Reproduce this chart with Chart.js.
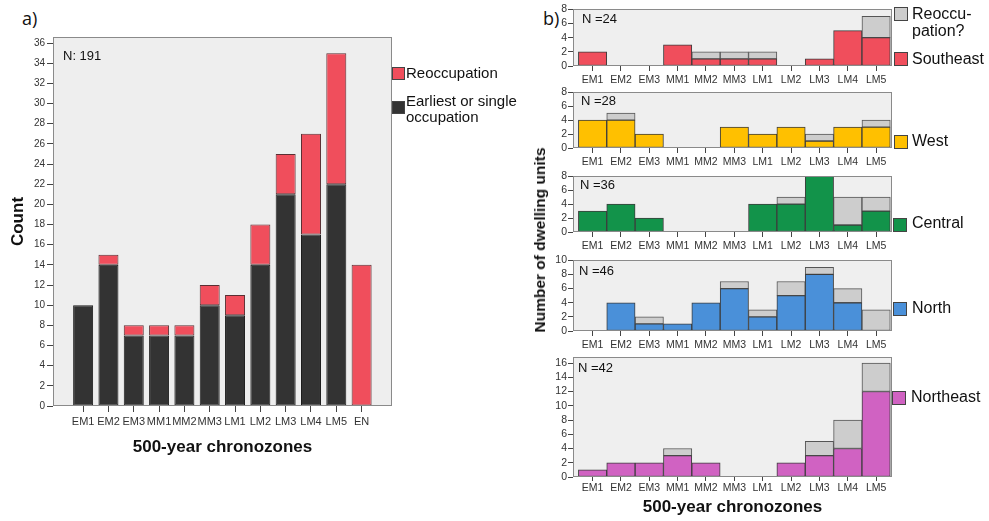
<!DOCTYPE html>
<html><head><meta charset="utf-8">
<script src="https://cdn.jsdelivr.net/npm/chart.js@4/dist/chart.umd.min.js"></script>
<style>
html,body{margin:0;padding:0;background:#fff}
body{width:989px;height:521px;position:relative;overflow:hidden;font-family:"Liberation Sans",Arial,sans-serif;color:#111}
.cv{position:absolute}
.t{position:absolute;white-space:nowrap}
.sw{position:absolute;width:11px;height:11px;border:1px solid #444}
.leg{position:absolute;font-size:15px;line-height:16px;white-space:nowrap;color:#111}
.n{position:absolute;font-size:13px;white-space:nowrap;color:#111}
</style></head><body>

<div class="t" style="left:22px;top:6px;font-family:'Open Sans',sans-serif;font-size:18px">a)</div>
<div class="t" style="left:543px;top:6px;font-family:'Open Sans',sans-serif;font-size:18px">b)</div>

<div class="cv" style="left:0;top:0;width:540px;height:470px"><canvas id="ca"></canvas></div>
<div class="n" style="left:63px;top:48px">N: 191</div>
<div class="sw" style="left:392px;top:67px;background:#F04E5C"></div>
<div class="leg" style="left:406px;top:65px">Reoccupation</div>
<div class="sw" style="left:392px;top:101px;background:#333"></div>
<div class="leg" style="left:406px;top:93px">Earliest or single<br>occupation</div>

<div class="cv" style="left:540px;top:2px;width:449px;height:86px"><canvas id="c1"></canvas></div>
<div class="cv" style="left:540px;top:85px;width:449px;height:85px"><canvas id="c2"></canvas></div>
<div class="cv" style="left:540px;top:169px;width:449px;height:85px"><canvas id="c3"></canvas></div>
<div class="cv" style="left:540px;top:253px;width:449px;height:100px"><canvas id="c4"></canvas></div>
<div class="cv" style="left:540px;top:350px;width:449px;height:171px"><canvas id="c5"></canvas></div>

<div class="n" style="left:582px;top:11px">N =24</div>
<div class="n" style="left:581px;top:93px">N =28</div>
<div class="n" style="left:580px;top:177px">N =36</div>
<div class="n" style="left:579px;top:263px">N =46</div>
<div class="n" style="left:578px;top:360px">N =42</div>

<div class="sw" style="left:894px;top:7px;width:12px;height:12px;background:#CDCDCD"></div>
<div class="leg" style="left:912px;top:5px;font-size:16px;line-height:17px">Reoccu-<br>pation?</div>
<div class="sw" style="left:894px;top:52px;width:12px;height:12px;background:#F04E5C"></div>
<div class="leg" style="left:912px;top:51px;font-size:16px">Southeast</div>
<div class="sw" style="left:894px;top:135px;width:12px;height:12px;background:#FFC000"></div>
<div class="leg" style="left:912px;top:133px;font-size:16px">West</div>
<div class="sw" style="left:893px;top:218px;width:12px;height:12px;background:#12934A"></div>
<div class="leg" style="left:912px;top:215px;font-size:16px">Central</div>
<div class="sw" style="left:893px;top:302px;width:12px;height:12px;background:#4A90D9"></div>
<div class="leg" style="left:912px;top:300px;font-size:16px">North</div>
<div class="sw" style="left:892px;top:391px;width:12px;height:12px;background:#D062C2"></div>
<div class="leg" style="left:911px;top:389px;font-size:16px">Northeast</div>

<div class="t" style="left:540px;top:240px;transform:translate(-50%,-50%) rotate(-90deg);font-weight:bold;font-size:15.5px">Number of dwelling units</div>

<script>
// ---------- data ----------
const categoriesA = ['EM1','EM2','EM3','MM1','MM2','MM3','LM1','LM2','LM3','LM4','LM5','EN'];
const earliestA   = [10,14,7,7,7,10,9,14,21,17,22,0];
const reoccA      = [0,1,1,1,1,2,2,4,4,10,13,14];
const yTicksA     = [0,2,4,6,8,10,12,14,16,18,20,22,24,26,28,30,32,34,36];

const categoriesB = ['EM1','EM2','EM3','MM1','MM2','MM3','LM1','LM2','LM3','LM4','LM5'];
const southeast   = [2,0,0,3,1,1,1,0,1,5,4];
const southeastQ  = [0,0,0,0,1,1,1,0,0,0,3];
const west        = [4,4,2,0,0,3,2,3,1,3,3];
const westQ       = [0,1,0,0,0,0,0,0,1,0,1];
const central     = [3,4,2,0,0,0,4,4,8,1,3];
const centralQ    = [0,0,0,0,0,0,0,1,0,4,2];
const north       = [0,4,1,1,4,6,2,5,8,4,0];
const northQ      = [0,0,1,0,0,1,1,2,1,2,3];
const northeast   = [1,2,2,3,2,0,0,2,3,4,12];
const northeastQ  = [0,0,0,1,0,0,0,0,2,4,4];
const yTicks8     = [0,2,4,6,8];
const yTicks10    = [0,2,4,6,8,10];
const yTicks16    = [0,2,4,6,8,10,12,14,16];

// ---------- setup ----------
Chart.defaults.font.family = '"Liberation Sans", Arial, sans-serif';
Chart.defaults.color = '#333';
Chart.defaults.animation = false;

const boxPlugin = {
  id: 'box',
  beforeDraw(chart, args, o) {
    const {ctx, chartArea: a} = chart;
    ctx.save(); ctx.fillStyle = o.bg; ctx.fillRect(a.left, a.top, a.width, a.height); ctx.restore();
  },
  afterDraw(chart, args, o) {
    const {ctx, chartArea: a} = chart;
    ctx.save(); ctx.strokeStyle = o.line; ctx.lineWidth = 1;
    ctx.strokeRect(Math.round(a.left) + 0.5, Math.round(a.top) + 0.5, Math.round(a.width) - 1, Math.round(a.height) - 1);
    ctx.restore();
  }
};

function pts(arr) { return arr.map((v, i) => ({x: i + 1, y: v === 0 ? null : v})); }

// ---------- panel a ----------
new Chart(document.getElementById('ca'), {
  type: 'bar',
  data: {
    datasets: [
      {label: 'Earliest or single occupation', data: pts(earliestA), backgroundColor: '#333333', borderColor: '#1c1c1c', borderWidth: 1, borderSkipped: false},
      {label: 'Reoccupation', data: pts(reoccA), backgroundColor: '#F04E5C', borderColor: '#5a2f33', borderWidth: 1, borderSkipped: false}
    ]
  },
  options: {
    responsive: true, maintainAspectRatio: false,
    layout: {padding: {left: 4, top: 37, right: 148, bottom: 8}},
    datasets: {bar: {barPercentage: 0.79, categoryPercentage: 1}},
    plugins: {legend: {display: false}, tooltip: {enabled: false}, box: {bg: '#EEEEEE', line: '#8a8a8a'}},
    scales: {
      x: {
        type: 'linear', stacked: true, offset: false, min: -0.19, max: 13.2,
        afterBuildTicks: s => { s.ticks = categoriesA.map((c, i) => ({value: i + 1})); },
        afterFit: s => { s.height = 56; },
        ticks: {autoSkip: false, maxRotation: 0, padding: 3, font: {size: 11}, color: '#333',
                callback: v => categoriesA[v - 1]},
        grid: {offset: false, drawOnChartArea: false, tickLength: 6, color: '#444'},
        border: {display: false},
        title: {display: true, text: '500-year chronozones', font: {size: 17, weight: 'bold'}, color: '#111', padding: {top: 0, bottom: 4}}
      },
      y: {
        type: 'linear', stacked: true, min: 0, max: 36.6,
        afterBuildTicks: s => { s.ticks = yTicksA.map(v => ({value: v})); },
        afterFit: s => { s.width = 49; },
        ticks: {autoSkip: false, padding: 2, font: {size: 10}, color: '#333'},
        grid: {drawOnChartArea: false, tickLength: 6, color: '#444'},
        border: {display: false},
        title: {display: true, text: 'Count', font: {size: 17, weight: 'bold'}, color: '#111', padding: {top: 4, bottom: 4}}
      }
    }
  },
  plugins: [boxPlugin]
});

// ---------- panel b ----------
function panelB(id, main, q, color, yMax, yTicks, xAxisH, withTitle, tickPad, tickLen) {
  new Chart(document.getElementById(id), {
    type: 'bar',
    data: {
      datasets: [
        {label: 'Region', data: pts(main), backgroundColor: color, borderColor: '#3d3d3d', borderWidth: 1, borderSkipped: false},
        {label: 'Reoccupation?', data: pts(q), backgroundColor: '#CDCDCD', borderColor: '#555', borderWidth: 1, borderSkipped: false}
      ]
    },
    options: {
      responsive: true, maintainAspectRatio: false,
      layout: {padding: {left: 0, top: 5, right: 97, bottom: 0}},
      datasets: {bar: {barPercentage: 1, categoryPercentage: 1}},
      plugins: {legend: {display: false}, tooltip: {enabled: false}, box: {bg: '#EFEFEF', line: '#8a8a8a'}},
      scales: {
        x: {
          type: 'linear', stacked: true, offset: false, min: 0.31, max: 11.56,
          afterBuildTicks: s => { s.ticks = categoriesB.map((c, i) => ({value: i + 1})); },
          afterFit: s => { s.height = xAxisH; },
          ticks: {autoSkip: false, maxRotation: 0, padding: tickPad, font: {size: 10.5}, color: '#333',
                  callback: v => categoriesB[v - 1]},
          grid: {offset: false, drawOnChartArea: false, tickLength: tickLen, color: '#444'},
          border: {display: false},
          title: {display: withTitle, text: '500-year chronozones', font: {size: 17, weight: 'bold'}, color: '#111', padding: {top: 0, bottom: 3}}
        },
        y: {
          type: 'linear', stacked: true, min: 0, max: yMax,
          afterBuildTicks: s => { s.ticks = yTicks.map(v => ({value: v})); },
          afterFit: s => { s.width = 33; },
          ticks: {autoSkip: false, padding: 1, font: {size: 10.5}, color: '#333'},
          grid: {drawOnChartArea: false, tickLength: 5, color: '#444'},
          border: {display: false}
        }
      }
    },
    plugins: [boxPlugin]
  });
}

panelB('c1', southeast, southeastQ, '#F04E5C', 8, yTicks8, 22, false, 3, 5);
panelB('c2', west, westQ, '#FFC000', 8, yTicks8, 22, false, 3, 5);
panelB('c3', central, centralQ, '#12934A', 8, yTicks8, 22, false, 3, 5);
panelB('c4', north, northQ, '#4A90D9', 10, yTicks10, 22, false, 3, 5);
panelB('c5', northeast, northeastQ, '#D062C2', 16.8, yTicks16, 44, true, 1, 4);
</script>
</body></html>
